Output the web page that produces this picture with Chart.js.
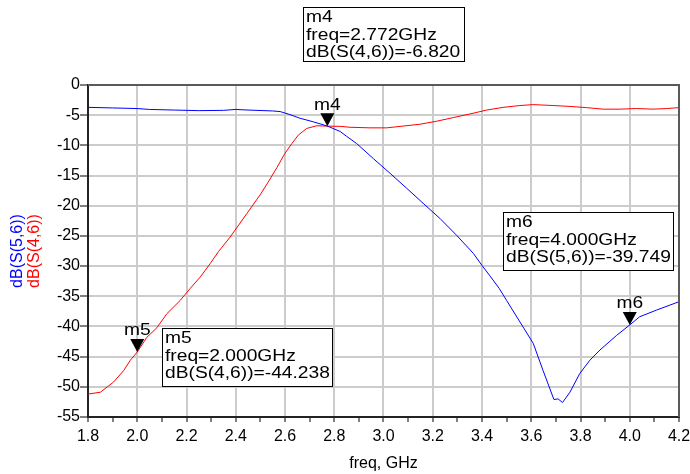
<!DOCTYPE html>
<html>
<head>
<meta charset="utf-8">
<script src="https://cdn.jsdelivr.net/npm/chart.js@4/dist/chart.umd.min.js"></script>
<style>
  html, body { margin: 0; padding: 0; background: #fff; }
  #wrap { width: 690px; height: 474px; }
</style>
</head>
<body>
<div id="wrap"><canvas id="c" width="690" height="474"></canvas></div>
<script>
// dB(S(4,6)) trace
const s46Freq = [1.80, 1.85, 1.904, 1.945, 1.972, 2.00, 2.039, 2.08, 2.12, 2.174, 2.215, 2.256, 2.296, 2.33,
  2.377, 2.445, 2.499, 2.53, 2.567, 2.60, 2.628, 2.654, 2.688, 2.729, 2.772, 2.824, 2.864, 2.945, 3.013,
  3.08, 3.148, 3.216, 3.283, 3.351, 3.419, 3.486, 3.554, 3.608, 3.689, 3.757, 3.824, 3.892, 3.96, 4.027,
  4.095, 4.15, 4.20];
const s46Db = [-51.2, -50.9, -49.2, -47.3, -45.6, -44.238, -41.8, -40.2, -37.9, -35.7, -33.7, -31.8, -29.6, -27.6,
  -25.2, -21.3, -18.2, -16.2, -13.7, -11.3, -9.7, -8.3, -7.2, -6.75, -6.820, -6.85, -7.0, -7.1, -7.1,
  -6.8, -6.5, -6.0, -5.4, -4.8, -4.15, -3.7, -3.4, -3.25, -3.4, -3.55, -3.75, -4.0, -4.0, -3.9,
  -4.0, -3.9, -3.75];

// dB(S(5,6)) trace
const s56Freq = [1.80, 1.90, 2.00, 2.05, 2.15, 2.25, 2.35, 2.40, 2.45, 2.55, 2.58, 2.62, 2.66, 2.715, 2.772,
  2.824, 2.85, 2.891, 2.959, 3.026, 3.094, 3.161, 3.229, 3.297, 3.365, 3.40, 3.43, 3.47, 3.50, 3.567,
  3.608, 3.648, 3.692, 3.709, 3.727, 3.757, 3.797, 3.838, 3.879, 3.946, 4.00, 4.04, 4.108, 4.20];
const s56Db = [-3.7, -3.8, -3.9, -4.05, -4.15, -4.25, -4.2, -4.05, -4.15, -4.3, -4.4, -4.9, -5.5, -6.1, -6.8,
  -7.7, -8.5, -9.7, -12.2, -14.6, -17.1, -19.6, -22.1, -24.9, -27.9, -29.9, -31.5, -33.7, -35.7, -40.1,
  -42.8, -47.3, -52.1, -52.0, -52.6, -50.9, -47.8, -45.6, -43.9, -41.5, -39.749, -38.4, -37.3, -35.9];

// markers
const markerNames = ['m4', 'm5', 'm6'];
const markerFreq = [2.772, 2.000, 4.000];
const markerValue = [-6.820, -44.238, -39.749];
const markerTrace = ['S(4,6)', 'S(4,6)', 'S(5,6)'];

// axis ticks
const xMin = 1.8, xMax = 4.2, xStep = 0.1;
const yMin = -55, yMax = 0, yStep = 5;

const FONT = '"Liberation Sans", Arial, sans-serif';
const BLUE = '#0000ff';
const RED = '#ff0000';

// readout box placement (left, top, width, height) per marker
const boxLayout = {
  m4: [303, 7, 161, 54],
  m5: [162, 328, 170, 58],
  m6: [503, 212, 170, 58]
};

function pts(fx, fy) { return fx.map((f, i) => ({ x: f, y: fy[i] })); }

const isMajorX = v => Math.round(v * 10) % 2 === 0;

const frameLines = {
  id: 'frameLines',
  afterDraw(chart) {
    const { ctx, chartArea: a } = chart;
    ctx.save();
    ctx.strokeStyle = '#5a5a5a';
    ctx.lineWidth = 2;
    ctx.beginPath();
    ctx.moveTo(a.left, a.top);
    ctx.lineTo(a.right, a.top);
    ctx.lineTo(a.right, a.bottom);
    ctx.stroke();
    ctx.restore();
  }
};

const yTitles = {
  id: 'yTitles',
  afterDraw(chart) {
    const { ctx, chartArea: a } = chart;
    const cy = (a.top + a.bottom) / 2;
    ctx.save();
    ctx.font = '16px ' + FONT;
    ctx.textAlign = 'center';
    ctx.textBaseline = 'middle';
    [[18, BLUE, 'dB(S(5,6))'], [35, RED, 'dB(S(4,6))']].forEach(([x, col, txt]) => {
      ctx.save();
      ctx.translate(x, cy);
      ctx.rotate(-Math.PI / 2);
      ctx.fillStyle = col;
      ctx.fillText(txt, 0, 0);
      ctx.restore();
    });
    ctx.restore();
  }
};

function wideText(ctx, txt, x, y, align) {
  // ADS-style wide lettering
  const sx = 1.2;
  ctx.save();
  ctx.translate(x, y);
  ctx.scale(sx, 1);
  ctx.textAlign = align;
  ctx.fillText(txt, 0, 0);
  ctx.restore();
}

const markers = {
  id: 'markers',
  afterDraw(chart) {
    const { ctx } = chart;
    const xs = chart.scales.x, ys = chart.scales.y;
    ctx.save();
    ctx.font = '16px ' + FONT;
    ctx.textBaseline = 'middle';
    ctx.fillStyle = '#000';
    markerNames.forEach((name, i) => {
      const px = xs.getPixelForValue(markerFreq[i]);
      const py = ys.getPixelForValue(markerValue[i]);
      ctx.beginPath();
      ctx.moveTo(px, py);
      ctx.lineTo(px - 7, py - 13);
      ctx.lineTo(px + 7, py - 13);
      ctx.closePath();
      ctx.fill();
      wideText(ctx, name, px, py - 21, 'center');

      const [bx, by, bw, bh] = boxLayout[name];
      ctx.fillStyle = '#fff';
      ctx.fillRect(bx, by, bw, bh);
      ctx.strokeStyle = '#000';
      ctx.lineWidth = 1;
      ctx.strokeRect(bx + 0.5, by + 0.5, bw, bh);
      ctx.fillStyle = '#000';
      const lines = [
        name,
        'freq=' + markerFreq[i].toFixed(3) + 'GHz',
        'dB(' + markerTrace[i] + ')=' + markerValue[i].toFixed(3)
      ];
      lines.forEach((t, k) => wideText(ctx, t, bx + 3, by + 11 + k * 17.5, 'left'));
    });
    ctx.restore();
  }
};

new Chart(document.getElementById('c'), {
  type: 'line',
  data: {
    datasets: [
      { label: 'dB(S(5,6))', data: pts(s56Freq, s56Db), borderColor: BLUE, borderWidth: 1,
        pointRadius: 0, tension: 0, fill: false },
      { label: 'dB(S(4,6))', data: pts(s46Freq, s46Db), borderColor: RED, borderWidth: 1,
        pointRadius: 0, tension: 0, fill: false }
    ]
  },
  options: {
    responsive: false,
    animation: false,
    events: [],
    layout: { padding: { left: 0, top: 85, right: 11, bottom: 0 } },
    plugins: { legend: { display: false }, tooltip: { enabled: false } },
    scales: {
      x: {
        type: 'linear',
        min: xMin, max: xMax,
        afterFit(s) { s.height = 57; s.paddingLeft = 0; s.paddingRight = 0; },
        ticks: {
          stepSize: xStep, autoSkip: false, maxRotation: 0, padding: 5,
          color: '#000', font: { family: FONT, size: 16 },
          callback: v => isMajorX(v) ? v.toFixed(1) : ''
        },
        grid: {
          color: c => (c.tick && isMajorX(c.tick.value)) ? '#cccccc' : 'rgba(0,0,0,0)',
          lineWidth: 2, tickColor: '#000', tickWidth: 1, tickLength: 5, drawTicks: true
        },
        border: { display: true, color: '#222', width: 2 },
        title: { display: true, text: 'freq, GHz', color: '#000', font: { family: FONT, size: 16 },
          padding: { top: 0, bottom: 1 } }
      },
      y: {
        min: yMin, max: yMax,
        afterFit(s) { s.width = 88; },
        ticks: { stepSize: yStep, padding: 0, color: '#000', font: { family: FONT, size: 16 } },
        grid: { color: '#cccccc', lineWidth: 2, tickColor: '#000', tickWidth: 1, tickLength: 8 },
        border: { display: true, color: '#222', width: 2 }
      }
    }
  },
  plugins: [frameLines, yTitles, markers]
});
</script>
</body>
</html>
